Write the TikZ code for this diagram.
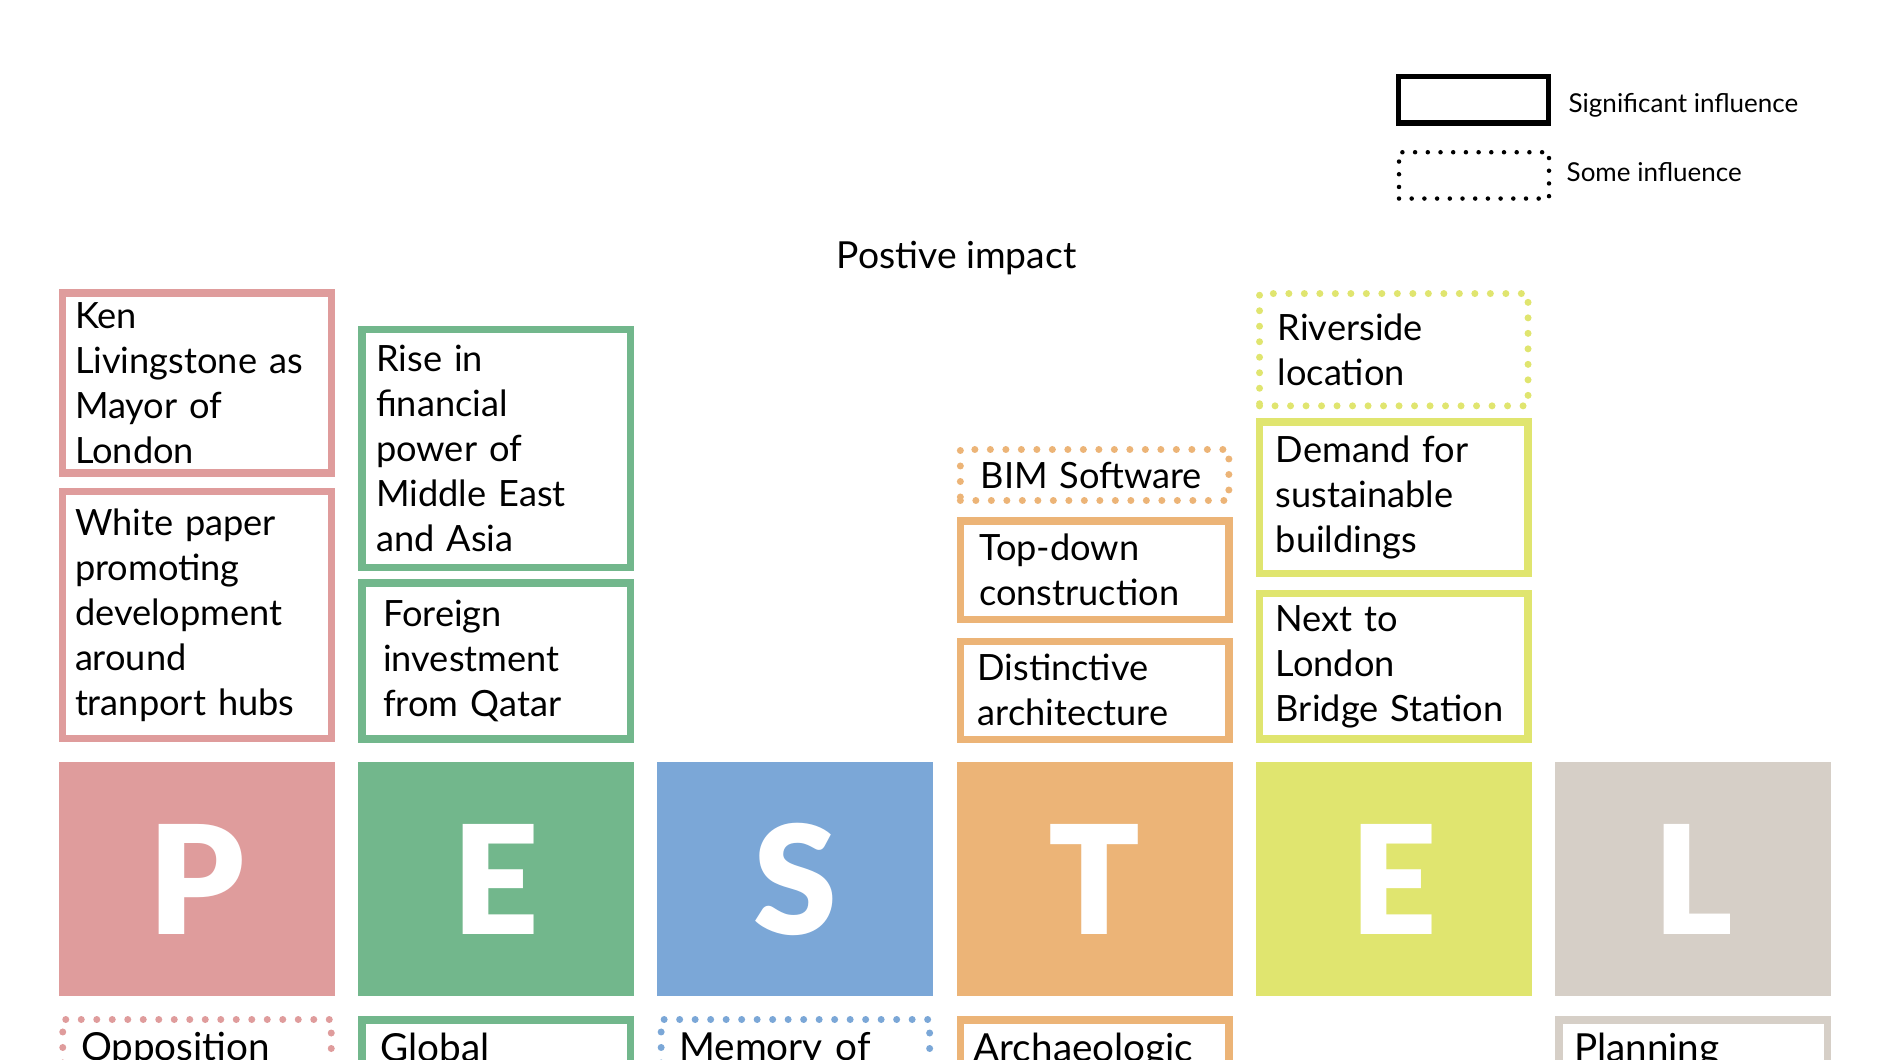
\documentclass[tikz,border=0pt]{standalone}
\usepackage{fontspec}
\setmainfont{Lato}
\newfontfamily\blackfont{Lato Black}

\definecolor{polcol}{HTML}{DF9C9C}
\definecolor{ecocol}{HTML}{72B78C}
\definecolor{soccol}{HTML}{7BA7D7}
\definecolor{teccol}{HTML}{ECB477}
\definecolor{envcol}{HTML}{E0E56F}
\definecolor{legcol}{HTML}{D6CFC7}

\begin{document}
\begin{tikzpicture}[x=1mm,y=-1mm,
  letter/.style={minimum width=27.6mm, minimum height=23.4mm, inner sep=0pt,
    text=white, font=\fontsize{43}{43}\selectfont\blackfont},
  sig/.style={draw, line width=0.75mm, minimum width=26.85mm, inner sep=0pt,
    text width=23.4mm, align=left, font=\fontsize{10.3}{12.8}\selectfont},
  some/.style={sig, line width=0.7mm, line cap=round, dash pattern=on 0pt off 1.55mm},
  low/.style={anchor=north, text height=3mm, text depth=25mm, inner ysep=1.15mm,
    text width=23.2mm, font=\fontsize{11}{14}\selectfont}]
  \useasboundingbox (0,0) rectangle (189,106);
  \clip (0,0) rectangle (189,106);

  % legend
  \node[draw, line width=0.53mm, minimum width=14.96mm, minimum height=4.63mm] (legsig) at (147.35,9.99) {};
  \node[draw, line width=0.45mm, line cap=round, dash pattern=on 0pt off 1.27mm,
    minimum width=15mm, minimum height=4.63mm] (legsome) at (147.4,17.54) {};
  \node[anchor=base west, inner sep=0pt, font=\fontsize{7.4}{9}\selectfont] (legsigtxt) at (156.8,11.3) {Significant influence};
  \node[anchor=base west, inner sep=0pt, font=\fontsize{7.4}{9}\selectfont] (legsometxt) at (156.6,18.17) {Some influence};

  \node[anchor=base, inner sep=0pt, font=\fontsize{10.6}{12}\selectfont] (title) at (95.65,26.9) {Postive impact};

  % the six letters
  \node[letter, fill=polcol] (pol) at (19.7,87.9) {P};
  \node[letter, fill=ecocol] (eco) at (49.62,87.9) {E};
  \node[letter, fill=soccol] (soc) at (79.54,87.9) {S};
  \node[letter, fill=teccol] (tec) at (109.46,87.9) {T};
  \node[letter, fill=envcol] (env) at (139.38,87.9) {E};
  \node[letter, fill=legcol] (leg) at (169.3,87.9) {L};

  % positive impact
  \node[sig, draw=polcol, text width=24.4mm, minimum height=18mm] (ken) at (19.7,38.28)
    {Ken\\Livingstone as\\Mayor of\\London};
  \node[sig, draw=polcol, text width=24.4mm, minimum height=24.7mm] (white) at (19.7,61.48)
    {White paper\\promoting\\development\\around\\tranport hubs};
  \node[sig, draw=ecocol, text width=24mm, minimum height=23.8mm] (rise) at (49.62,44.84)
    {Rise in\\financial\\power of\\Middle East\\and Asia};
  \node[sig, draw=ecocol, text width=22.6mm, minimum height=15.6mm] (qatar) at (49.62,66.1)
    {Foreign\\investment\\from Qatar};
  \node[some, draw=teccol, text width=22.8mm, minimum height=5.1mm] (bim) at (109.46,47.5)
    {BIM Software};
  \node[sig, draw=teccol, text width=23.1mm, minimum height=9.85mm] (topdown) at (109.46,57.03)
    {Top-down\\construction};
  \node[sig, draw=teccol, minimum height=9.8mm] (distinct) at (109.46,69.03)
    {Distinctive\\architecture};
  \node[some, draw=envcol, text width=23.2mm, minimum height=11.23mm] (river) at (139.38,34.97)
    {Riverside\\location};
  \node[sig, draw=envcol, text width=23.6mm, minimum height=15.15mm] (demand) at (139.38,49.78)
    {Demand for\\sustainable\\buildings};
  \node[sig, draw=envcol, text width=23.6mm, minimum height=14.55mm] (station) at (139.38,66.65)
    {Next to\\London\\Bridge Station};

  % below the letters
  \node[some, low, draw=polcol] (oppo) at (19.7,101.6) {Opposition};
  \node[sig, low, draw=ecocol] (global) at (49.62,101.6) {Global};
  \node[some, low, draw=soccol] (memory) at (79.54,101.6) {Memory of};
  \node[sig, low, draw=teccol, text width=24.2mm] (archae) at (109.46,101.6) {Archaeologic};
  \node[sig, low, draw=legcol, text width=23.8mm] (planning) at (169.3,101.6) {Planning};
\end{tikzpicture}
\end{document}
